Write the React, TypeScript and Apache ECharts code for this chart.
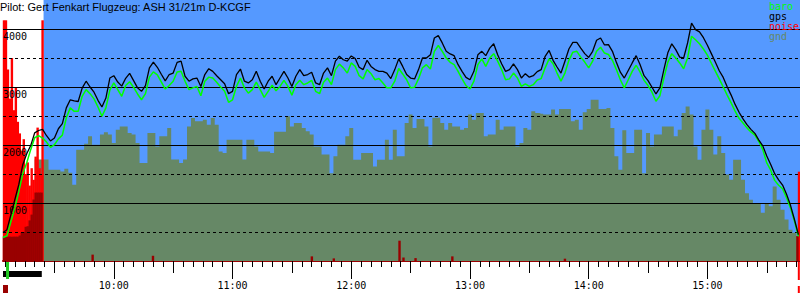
import React, { useEffect, useRef } from "react";
import * as echarts from "echarts";

// sampling clock: minutes after midnight, first sample 09:04, every 2 minutes
const T0 = 544;
const STEP = 2;

// GPS altitude (m)
const gps = [
  490, 540, 800, 1060, 1320, 1660, 1850, 1990, 2210, 2250,
  2270, 2160, 2070, 2120, 2280, 2370, 2640, 2780, 2760, 2750,
  2980, 3100, 3000, 2910, 2770, 2655, 2810, 3155, 3195, 3085,
  3015, 3150, 3235, 3110, 2985, 2925, 3025, 3330, 3430, 3340,
  3220, 3105, 3215, 3240, 3425, 3445, 3185, 3100, 3140, 3155,
  3010, 3215, 3315, 3270, 3195, 3125, 3055, 2885, 2925, 3215,
  3310, 3100, 3070, 3125, 3270, 3100, 2965, 3100, 3185, 3040,
  3155, 3270, 3155, 3010, 3185, 3300, 3195, 3215, 3255, 3070,
  3040, 3240, 3330, 3195, 3445, 3530, 3470, 3445, 3535, 3490,
  3340, 3300, 3460, 3355, 3300, 3270, 3270, 3240, 3145, 3300,
  3485, 3355, 3215, 3155, 3140, 3300, 3500, 3500, 3555, 3845,
  3885, 3760, 3615, 3570, 3540, 3385, 3270, 3165, 3125, 3270,
  3555, 3615, 3540, 3670, 3745, 3555, 3400, 3270, 3300, 3400,
  3300, 3155, 3230, 3170, 3195, 3265, 3300, 3530, 3630, 3460,
  3345, 3240, 3445, 3655, 3770, 3770, 3670, 3575, 3510, 3615,
  3805, 3845, 3725, 3730, 3615, 3425, 3255, 3155, 3285, 3415,
  3540, 3385, 3195, 3110, 2995, 2880, 2985, 3300, 3590, 3745,
  3645, 3515, 3500, 3760, 4100, 3990, 3950, 3850, 3720, 3575,
  3430, 3280, 3165, 3005, 2860, 2700, 2565, 2450, 2350, 2270,
  2200, 2085, 1985, 1810, 1665, 1505, 1400, 1310, 1150, 960,
  715, 455,
];

// barometric altitude (m)
const baro = [
  405, 435, 680, 920, 1195, 1505, 1695, 1920, 2125, 2160,
  2120, 2050, 1960, 2005, 2105, 2170, 2470, 2640, 2580, 2580,
  2840, 2955, 2885, 2795, 2655, 2495, 2640, 2945, 3070, 2955,
  2840, 3025, 3090, 2995, 2880, 2780, 2885, 3170, 3260, 3210,
  3090, 2965, 3025, 3100, 3260, 3270, 3100, 2955, 2985, 3010,
  2850, 3100, 3170, 3155, 3080, 3000, 2925, 2735, 2780, 3010,
  3155, 2985, 2895, 2955, 3085, 2955, 2820, 2925, 3030, 2935,
  3010, 3115, 3010, 2860, 3040, 3115, 3040, 3070, 3115, 2925,
  2885, 3080, 3155, 3040, 3300, 3395, 3330, 3240, 3415, 3355,
  3195, 3140, 3300, 3230, 3125, 3145, 3070, 2985, 2985, 3100,
  3320, 3225, 3125, 2985, 2995, 3140, 3330, 3385, 3310, 3615,
  3715, 3615, 3500, 3425, 3385, 3270, 3140, 3025, 2965, 3100,
  3385, 3485, 3355, 3500, 3575, 3445, 3300, 3125, 3140, 3240,
  3155, 3010, 3055, 3010, 3040, 3120, 3145, 3330, 3485, 3400,
  3240, 3100, 3240, 3460, 3600, 3615, 3515, 3430, 3330, 3445,
  3615, 3685, 3585, 3560, 3460, 3300, 3125, 2985, 3125, 3270,
  3375, 3255, 3115, 3025, 2910, 2755, 2850, 3155, 3425, 3575,
  3500, 3415, 3315, 3500, 3875, 3815, 3745, 3655, 3550, 3410,
  3275, 3140, 3000, 2860, 2725, 2585, 2460, 2380, 2295, 2225,
  2170, 2060, 1920, 1690, 1565, 1390, 1305, 1245, 1090, 915,
  690, 425,
];

// ground elevation below the glider (m)
const gnd = [
  null, null, null, null, null, null, null, null, 1750, 1750,
  1750, 1750, 1575, 1575, 1575, 1545, 1590, 1520, 1315, 1920,
  1920, 2020, 2150, 2005, 2005, 2180, 2220, 2180, 2035, 2265,
  2320, 2320, 2205, 2180, 2035, 1690, 1690, 2205, 2205, 1975,
  2150, 2150, 2295, 1750, 1750, 1690, 1750, 2320, 2465, 2410,
  2410, 2435, 2350, 2465, 2350, 1890, 1860, 2090, 2090, 2090,
  2090, 1750, 2090, 2090, 1975, 1890, 1890, 1890, 1860, 2230,
  2230, 2230, 2495, 2320, 2380, 2380, 2295, 2235, 2180, 1975,
  1975, 1835, 1835, 1515, 1805, 2005, 2005, 2150, 2295, 1745,
  1745, 1860, 1860, 1860, 1630, 1745, 1745, 2090, 1745, 2265,
  1805, 1805, 2380, 2525, 2295, 2450, 2450, 2320, 1975, 2470,
  2470, 2380, 2265, 2380, 2320, 2320, 2265, 2295, 2525, 2435,
  2550, 2550, 2150, 2180, 2180, 2435, 2265, 2320, 2320, 2320,
  1975, 2035, 2295, 2265, 2580, 2550, 2540, 2525, 2525, 2610,
  2525, 2620, 2620, 2620, 2410, 2435, 2265, 2565, 2620, 2780,
  2780, 2620, 2620, 2640, 2295, 1805, 1575, 2255, 1860, 1860,
  2265, 2265, 1515, 2205, 1975, 2180, 2180, 2320, 2320, 2320,
  2150, 2265, 2550, 2665, 2525, 1975, 1745, 2265, 2610, 2265,
  1835, 2150, 1860, 1490, 1400, 1745, 1745, 1400, 1170, 1055,
  1000, 1000, 830, 1000, 945, 1285, 1055, 885, 715, 540,
  485, 425,
];

// engine noise, loud (time in minutes, level on altitude scale)
const noiseHighTimes = [
  544.5, 545.5, 546.5, 547.5, 548.5, 549.5, 550.5, 551.5, 552.5, 553.5,
  554.5, 555.5, 556.5, 557.5, 558.5, 559.5, 560.5, 561.5, 562.5, 563.5,
  564.0, 946.3,
];
const noiseHighValues = [
  4150, 4150, 3300, 2800, 3500, 2600, 3000, 2400, 2200, 1900,
  2100, 1500, 1700, 1300, 1600, 1400, 1800, 2300, 1600, 1500,
  4150, 1540,
];
// engine noise, base level
const noiseLowTimes = [
  544.5, 545.5, 546.5, 547.5, 548.5, 549.5, 550.5, 551.5, 552.5, 553.5,
  554.5, 555.5, 556.5, 557.5, 558.5, 559.5, 560.5, 561.5, 562.5, 563.5,
  589.3, 619.8, 700.1, 711.2, 744.4, 746.4, 752.5, 771.1, 828.0, 945.5,
];
const noiseLowValues = [
  420, 420, 420, 420, 420, 420, 420, 420, 440, 490,
  500, 590, 600, 700, 800, 1060, 1180, 1180, 1180, 1180,
  110, 90, 80, 45, 350, 60, 50, 80, 40, 430,
];

const hourTicks = [600, 660, 720, 780, 840, 900];
const hourLabels = ["10:00", "11:00", "12:00", "13:00", "14:00", "15:00"];
const halfHourTicks = [570, 630, 690, 750, 810, 870, 930];
const yGridSolid = [1000, 2000, 3000, 4000];
const yGridDashed = [500, 1500, 2500, 3500];

const title = "Pilot: Gert Fenkart Flugzeug: ASH 31/21m D-KCGF";
const legendNames = ["baro", "gps", "noise", "gnd"];

const X_MIN = 544;
const X_MAX = 946.8;
const TAKEOFF = 564.5;
const ENGINE_RUN = [544, 563.6];
const GPS_FIX = 546.3;
const LANDING = 946.2;

const C_BLUE = "#5599ff";
const C_GND = "#668866";
const C_DARKRED = "#990000";
const C_RED = "#ff0000";
const C_GREEN = "#00ff00";
const legendColors = [C_GREEN, "#000000", C_RED, C_GND];

const MONO = "DejaVu Sans Mono";

export default function App() {
  const ref = useRef<HTMLDivElement>(null);

  useEffect(() => {
    if (!ref.current) return;
    const chart = echarts.init(ref.current, undefined, { renderer: "svg" });

    const fiveMin: number[] = [];
    for (let t = 545; t <= 945; t += 5) fiveMin.push(t);

    const pts = (arr: (number | null)[]) =>
      arr
        .map((v, i) => [T0 + i * STEP, v] as [number, number | null])
        .filter((p) => p[1] !== null);

    const baseX = {
      type: "value" as const,
      min: X_MIN,
      max: X_MAX,
      position: "bottom" as const,
      splitLine: { show: false },
    };

    chart.setOption({
      animation: false,
      grid: {
        left: 0,
        right: 0,
        top: 0,
        bottom: 39,
        show: true,
        backgroundColor: C_BLUE,
        borderWidth: 0,
      },
      xAxis: [
        {
          ...baseX,
          axisLine: { show: true, lineStyle: { color: C_DARKRED, width: 2 } },
          axisTick: {
            show: true,
            customValues: fiveMin,
            length: 6,
            lineStyle: { color: "#000", width: 1 },
          },
          axisLabel: { show: false },
        },
        {
          ...baseX,
          axisLine: { show: false },
          axisTick: {
            show: true,
            customValues: halfHourTicks,
            length: 12,
            lineStyle: { color: "#000", width: 1 },
          },
          axisLabel: { show: false },
        },
        {
          ...baseX,
          axisLine: { show: false },
          axisTick: {
            show: true,
            customValues: hourTicks,
            length: 18,
            lineStyle: { color: "#000", width: 1 },
          },
          axisLabel: {
            show: true,
            customValues: hourTicks,
            formatter: (v: number) => hourLabels[hourTicks.indexOf(v)] ?? "",
            fontFamily: MONO,
            fontSize: 10,
            color: "#000",
            margin: 19,
          },
        },
      ],
      yAxis: {
        type: "value",
        min: 0,
        max: 4500,
        interval: 1000,
        z: 10,
        axisLine: { show: false },
        axisTick: { show: false },
        splitLine: { show: false },
        axisLabel: {
          inside: true,
          margin: 0,
          align: "left",
          verticalAlign: "top",
          padding: [2, 0, 0, 0],
          fontFamily: MONO,
          fontSize: 10,
          color: "#000",
          formatter: (v: number) => (yGridSolid.indexOf(v) >= 0 ? String(v) : ""),
        },
      },
      series: [
        {
          name: "gnd",
          type: "line",
          step: "middle",
          data: pts(gnd),
          symbol: "none",
          lineStyle: { width: 0 },
          areaStyle: { color: C_GND, opacity: 1 },
          z: 2,
          markArea: {
            silent: true,
            itemStyle: { color: "#ffffff" },
            data: [[{ xAxis: X_MIN }, { xAxis: TAKEOFF }]],
          },
          markLine: {
            silent: true,
            symbol: ["none", "none"],
            label: { show: false },
            data: [
              ...yGridSolid.map((v) => ({
                yAxis: v,
                lineStyle: { color: "#000", width: 1, type: "solid" },
              })),
              ...yGridDashed.map((v) => ({
                yAxis: v,
                lineStyle: { color: "#000", width: 1, type: [3, 3] },
              })),
            ],
          },
        },
        {
          name: "noise",
          type: "bar",
          barWidth: 2.4,
          barGap: "-100%",
          data: noiseHighTimes.map((t, i) => [t, noiseHighValues[i]]),
          itemStyle: { color: C_RED },
          z: 3,
        },
        {
          name: "noiseLow",
          type: "bar",
          barWidth: 2.4,
          barGap: "-100%",
          data: noiseLowTimes.map((t, i) => [t, noiseLowValues[i]]),
          itemStyle: { color: C_DARKRED },
          z: 3,
        },
        {
          name: "baro",
          type: "line",
          data: pts(baro),
          symbol: "none",
          lineStyle: { color: C_GREEN, width: 1.5 },
          z: 10,
        },
        {
          name: "gps",
          type: "line",
          data: pts(gps),
          symbol: "none",
          lineStyle: { color: "#000", width: 1.3 },
          z: 11,
        },
      ],
    });

    const px = (t: number) => chart.convertToPixel({ xAxisIndex: 0 }, t) as number;
    const e0 = px(ENGINE_RUN[0]);
    const e1 = px(ENGINE_RUN[1]);
    const g = px(GPS_FIX);
    const l = px(LANDING);

    chart.setOption({
      graphic: [
        {
          id: "title",
          type: "text",
          left: 0,
          top: 1,
          z: 20,
          style: {
            text: title,
            fontFamily: "Liberation Sans",
            fontSize: 11,
            fill: "#000",
          },
        },
        ...legendNames.map((n, i) => ({
          id: "leg" + i,
          type: "text",
          x: 769,
          y: 1 + i * 10,
          z: 20,
          style: {
            text: n,
            fontFamily: MONO,
            fontSize: 10,
            fill: legendColors[i],
            textVerticalAlign: "top",
          },
        })),
        {
          id: "engine",
          type: "rect",
          shape: { x: e0, y: 271, width: e1 - e0, height: 6 },
          style: { fill: "#000" },
          z: 20,
        },
        {
          id: "gpsfix",
          type: "rect",
          shape: { x: g - 1.5, y: 262, width: 3, height: 17 },
          style: { fill: "#22cc22" },
          z: 21,
        },
        {
          id: "startsq",
          type: "rect",
          shape: { x: e0, y: 285, width: 5, height: 8 },
          style: { fill: C_DARKRED },
          z: 20,
        },
        {
          id: "land1",
          type: "rect",
          shape: { x: l - 1, y: 262, width: 2, height: 18 },
          style: { fill: C_RED },
          z: 20,
        },
        {
          id: "land2",
          type: "rect",
          shape: { x: l - 1, y: 286, width: 2, height: 7 },
          style: { fill: C_RED },
          z: 20,
        },
      ],
    });

    return () => chart.dispose();
  }, []);

  return (
    <div
      ref={ref}
      style={{ position: "absolute", left: 0, top: 0, width: 800, height: 300, background: "#fff" }}
    />
  );
}
